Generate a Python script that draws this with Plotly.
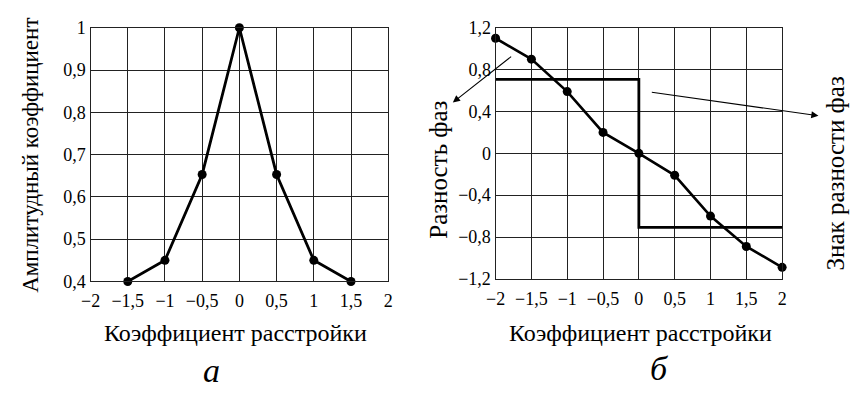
import plotly.graph_objects as go

# ---- data ----
detune = [-1.5, -1.0, -0.5, 0.0, 0.5, 1.0, 1.5]
amp_coef = [0.40, 0.45, 0.653, 1.0, 0.653, 0.45, 0.40]

detune_b = [-2.0, -1.5, -1.0, -0.5, 0.0, 0.5, 1.0, 1.5, 2.0]
phase_diff = [1.10, 0.90, 0.59, 0.20, 0.0, -0.21, -0.60, -0.89, -1.09]

sign_x = [-2.0, 0.0, 0.0, 2.0]
sign_y = [0.707, 0.707, -0.707, -0.707]

x_ticks = [-2, -1.5, -1, -0.5, 0, 0.5, 1, 1.5, 2]
x_ticktext = ["−2", "−1,5", "−1", "−0,5", "0", "0,5", "1", "1,5", "2"]
ya_ticks = [0.4, 0.5, 0.6, 0.7, 0.8, 0.9, 1.0]
ya_ticktext = ["0,4", "0,5", "0,6", "0,7", "0,8", "0,9", "1"]
yb_ticks = [-1.2, -0.8, -0.4, 0, 0.4, 0.8, 1.2]
yb_ticktext = ["−1,2", "−0,8", "−0,4", "0", "0,4", "0,8", "1,2"]

FONT = "Liberation Serif"
W, H = 850, 393

fig = go.Figure()
fig.add_trace(go.Scatter(x=detune, y=amp_coef, mode="lines+markers",
                         line=dict(color="black", width=2.8),
                         marker=dict(color="black", size=9),
                         cliponaxis=False, xaxis="x", yaxis="y"))
fig.add_trace(go.Scatter(x=sign_x, y=sign_y, mode="lines",
                         line=dict(color="black", width=2.8),
                         cliponaxis=False, xaxis="x2", yaxis="y2"))
fig.add_trace(go.Scatter(x=detune_b, y=phase_diff, mode="lines+markers",
                         line=dict(color="black", width=2.6),
                         marker=dict(color="black", size=9),
                         cliponaxis=False, xaxis="x2", yaxis="y2"))

axis_common = dict(showgrid=True, gridcolor="#222", gridwidth=1,
                   showline=True, linecolor="#222", linewidth=1.2, mirror=True,
                   zeroline=False, ticks="", tickfont=dict(family=FONT, size=18, color="black"),
                   fixedrange=True)

fig.update_layout(
    width=W, height=H, margin=dict(l=0, r=0, t=0, b=0),
    plot_bgcolor="white", paper_bgcolor="white", showlegend=False,
    font=dict(family=FONT, color="black"),
    xaxis=dict(domain=[82 / W, 385 / W], range=[-2, 2], tickvals=x_ticks, ticktext=x_ticktext,
               anchor="y", ticklabelstandoff=3, **axis_common),
    yaxis=dict(domain=[1 - 286 / H, 1 - 18.7 / H], range=[0.4, 1.0], tickvals=ya_ticks,
               ticktext=ya_ticktext, anchor="x", **axis_common),
    xaxis2=dict(domain=[494.3 / W, 786 / W], range=[-2, 2], tickvals=x_ticks, ticktext=x_ticktext,
                anchor="y2", ticklabelstandoff=3, **axis_common),
    yaxis2=dict(domain=[1 - 283.3 / H, 1 - 18.7 / H], range=[-1.2, 1.2], tickvals=yb_ticks,
                ticktext=yb_ticktext, anchor="x2", **axis_common),
)

def f(size):
    return dict(family=FONT, size=size, color="black")

ann = []
def txt(x, y, s, size, angle=0):
    ann.append(dict(x=x / W, y=1 - y / H, xref="paper", yref="paper", text=s, showarrow=False,
                    textangle=angle, font=f(size), xanchor="center", yanchor="middle"))

txt(21, 153, "Амплитудный коэффициент", 23, -90)
txt(436, 168, "Разность фаз", 25, -90)
txt(840, 172, "Знак разности фаз", 25, -90)
txt(230, 340, "Коэффициент расстройки", 24)
txt(642, 340, "Коэффициент расстройки", 24)
txt(205, 380, "<i>а</i>", 34)
txt(661, 378, "<i>б</i>", 34)

# arrows (in right panel data coords)
ann.append(dict(x=-2.597, y=0.486, ax=-1.762, ay=0.935, xref="x2", yref="y2", axref="x2", ayref="y2",
                text="", showarrow=True, arrowhead=2, arrowsize=1.3, arrowwidth=1.1, arrowcolor="black"))
ann.append(dict(x=2.507, y=0.359, ax=0.160, ay=0.585, xref="x2", yref="y2", axref="x2", ayref="y2",
                text="", showarrow=True, arrowhead=2, arrowsize=1.3, arrowwidth=1.1, arrowcolor="black"))
fig.update_layout(annotations=ann)

fig.write_html("out.html")
